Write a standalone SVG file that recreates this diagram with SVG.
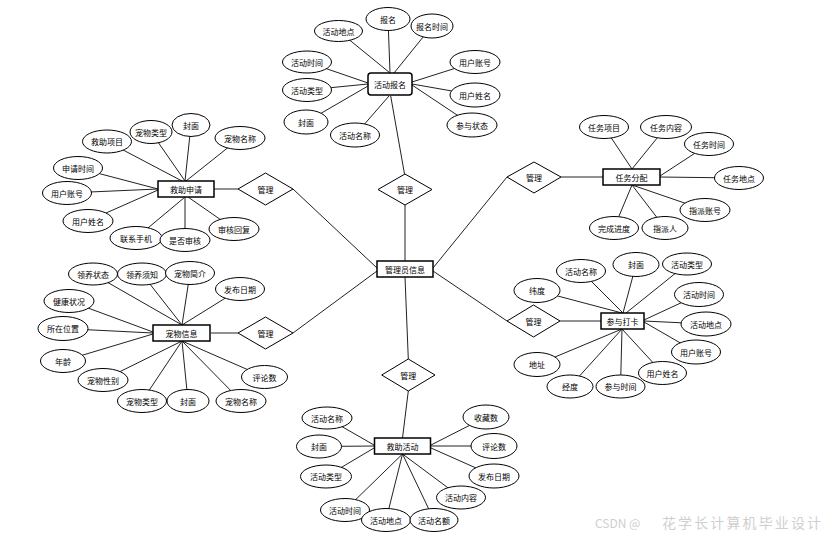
<svg xmlns="http://www.w3.org/2000/svg" width="834" height="540" viewBox="0 0 834 540">
<style>
text{font-family:"Noto Sans CJK SC","Noto Sans",sans-serif;font-size:8px;fill:#000;text-anchor:middle;dominant-baseline:central}
.a{fill:#fff;stroke:#000;stroke-width:1}
.e{fill:#fff;stroke:#000;stroke-width:1.5}
.r{fill:#fff;stroke:#000;stroke-width:1}
#conn line{stroke:#222;stroke-width:1}
.wm{font-size:14px;fill:#cfcfcf;text-anchor:start}
</style>
<rect width="834" height="540" fill="#fff"/>
<g id="conn">
<!-- 活动报名 -->
<line x1="338.5" y1="31" x2="390" y2="73"/>
<line x1="388" y1="19" x2="390" y2="73"/>
<line x1="432" y1="26" x2="394" y2="73"/>
<line x1="307" y1="62" x2="368" y2="83"/>
<line x1="307" y1="90" x2="368" y2="84"/>
<line x1="306" y1="122" x2="368" y2="86"/>
<line x1="355" y1="135" x2="389" y2="96"/>
<line x1="475" y1="62" x2="412" y2="82"/>
<line x1="475" y1="95" x2="412" y2="84"/>
<line x1="472" y1="125" x2="412" y2="85"/>
<line x1="390.7" y1="96" x2="404.5" y2="174"/>
<!-- main -->
<line x1="405" y1="205" x2="405" y2="261"/>
<line x1="293" y1="189" x2="377" y2="268"/>
<line x1="293" y1="333" x2="377" y2="271"/>
<line x1="433" y1="268" x2="507" y2="177"/>
<line x1="433" y1="271" x2="507" y2="321"/>
<line x1="405" y1="277" x2="408.3" y2="359"/>
<line x1="408.3" y1="391" x2="402.5" y2="438"/>
<line x1="214" y1="189" x2="238" y2="189"/>
<line x1="211" y1="333" x2="238" y2="333"/>
<line x1="561" y1="177" x2="603" y2="177"/>
<line x1="560" y1="321" x2="601" y2="321"/>
<!-- 救助申请 -->
<line x1="107" y1="141.5" x2="182" y2="181"/>
<line x1="151" y1="132" x2="185" y2="181"/>
<line x1="191" y1="125" x2="185" y2="181"/>
<line x1="240" y1="138" x2="186" y2="181"/>
<line x1="78" y1="168" x2="158" y2="189"/>
<line x1="67" y1="193" x2="158" y2="189"/>
<line x1="88" y1="221" x2="158" y2="190"/>
<line x1="136" y1="238" x2="185" y2="197"/>
<line x1="185" y1="240" x2="185" y2="197"/>
<line x1="234" y1="229" x2="188" y2="197"/>
<!-- 宠物信息 -->
<line x1="93" y1="274" x2="182" y2="325"/>
<line x1="142" y1="274" x2="182" y2="325"/>
<line x1="190" y1="273" x2="182" y2="325"/>
<line x1="240" y1="289" x2="182" y2="325"/>
<line x1="69" y1="301" x2="153" y2="332"/>
<line x1="63" y1="328.5" x2="153" y2="333"/>
<line x1="63" y1="361" x2="153" y2="334"/>
<line x1="103" y1="380" x2="182" y2="341"/>
<line x1="142" y1="401" x2="182" y2="341"/>
<line x1="188" y1="401" x2="182" y2="341"/>
<line x1="241" y1="401" x2="182" y2="341"/>
<line x1="264.5" y1="377" x2="182" y2="341"/>
<!-- 任务分配 -->
<line x1="604" y1="127" x2="632" y2="169"/>
<line x1="666" y1="127" x2="632" y2="169"/>
<line x1="709" y1="144" x2="660" y2="176"/>
<line x1="739" y1="178" x2="660" y2="177"/>
<line x1="705" y1="210" x2="632" y2="185"/>
<line x1="665" y1="228" x2="632" y2="185"/>
<line x1="614" y1="228" x2="632" y2="185"/>
<!-- 参与打卡 -->
<line x1="537" y1="290.5" x2="622" y2="313"/>
<line x1="581" y1="271" x2="623" y2="313"/>
<line x1="636" y1="264.5" x2="623" y2="313"/>
<line x1="687" y1="264" x2="626" y2="313"/>
<line x1="699" y1="294.5" x2="644" y2="320"/>
<line x1="706" y1="324" x2="644" y2="321"/>
<line x1="696" y1="352" x2="644" y2="322"/>
<line x1="662.5" y1="373" x2="622" y2="329"/>
<line x1="620.5" y1="386.5" x2="622" y2="329"/>
<line x1="570" y1="386.5" x2="622" y2="329"/>
<line x1="537" y1="364.5" x2="622" y2="329"/>
<!-- 救助活动 -->
<line x1="327" y1="418" x2="374" y2="445"/>
<line x1="319" y1="446.5" x2="374" y2="446"/>
<line x1="326" y1="476.5" x2="374" y2="448"/>
<line x1="345" y1="510" x2="402.5" y2="454"/>
<line x1="386" y1="520" x2="402.5" y2="454"/>
<line x1="434" y1="520" x2="402.5" y2="454"/>
<line x1="461" y1="497.5" x2="402.5" y2="454"/>
<line x1="486" y1="417" x2="431" y2="445"/>
<line x1="494" y1="446" x2="431" y2="446"/>
<line x1="494" y1="476" x2="431" y2="448"/>
</g>

<g id="diamond-top"><polygon class="r" points="405,174 432,189.5 405,205 378,189.5"/><text x="405" y="189.5">管理</text></g>
<g id="diamond-left1"><polygon class="r" points="265.5,173 293,189 265.5,205 238,189"/><text x="265.5" y="189">管理</text></g>
<g id="diamond-left2"><polygon class="r" points="265.5,317 293,333 265.5,349 238,333"/><text x="265.5" y="333">管理</text></g>
<g id="diamond-right1"><polygon class="r" points="534,162 561,177 534,193 507,177"/><text x="534" y="177">管理</text></g>
<g id="diamond-right2"><polygon class="r" points="533.5,305 560,321 533.5,337 507,321"/><text x="533.5" y="321">管理</text></g>
<g id="diamond-bottom"><polygon class="r" points="408.3,359 435,375 408.3,391 381.7,375"/><text x="408.3" y="375">管理</text></g>

<g id="admin"><rect class="e" x="377" y="261" width="56" height="16"/><text x="405" y="269">管理员信息</text></g>

<g id="signup"><rect class="e" x="368" y="73" width="44" height="22" rx="3"/><text x="390" y="84">活动报名</text></g>
<g id="signup-attrs">
<ellipse class="a" cx="338.5" cy="31" rx="24" ry="10.5"/><text x="338.5" y="31">活动地点</text>
<ellipse class="a" cx="388" cy="19" rx="22" ry="11.5"/><text x="388" y="19">报名</text>
<ellipse class="a" cx="432" cy="26" rx="21" ry="12"/><text x="432" y="26">报名时间</text>
<ellipse class="a" cx="307" cy="62" rx="24.5" ry="11"/><text x="307" y="62">活动时间</text>
<ellipse class="a" cx="307" cy="90" rx="24.5" ry="11.5"/><text x="307" y="90">活动类型</text>
<ellipse class="a" cx="306" cy="122" rx="22" ry="12"/><text x="306" y="122">封面</text>
<ellipse class="a" cx="355" cy="135" rx="24.5" ry="12"/><text x="355" y="135">活动名称</text>
<ellipse class="a" cx="475" cy="62" rx="25" ry="11.5"/><text x="475" y="62">用户账号</text>
<ellipse class="a" cx="475" cy="95" rx="25" ry="12"/><text x="475" y="95">用户姓名</text>
<ellipse class="a" cx="472" cy="125" rx="25" ry="12"/><text x="472" y="125">参与状态</text>
</g>

<g id="apply"><rect class="e" x="158" y="181" width="56" height="16"/><text x="186" y="189">救助申请</text></g>
<g id="apply-attrs">
<ellipse class="a" cx="107" cy="141.5" rx="24.5" ry="11.5"/><text x="107" y="141.5">救助项目</text>
<ellipse class="a" cx="151" cy="132" rx="21" ry="11.5"/><text x="151" y="132">宠物类型</text>
<ellipse class="a" cx="191" cy="125" rx="19" ry="11.5"/><text x="191" y="125">封面</text>
<ellipse class="a" cx="240" cy="138" rx="25" ry="11.5"/><text x="240" y="138">宠物名称</text>
<ellipse class="a" cx="78" cy="168" rx="24.5" ry="11.5"/><text x="78" y="168">申请时间</text>
<ellipse class="a" cx="67" cy="193" rx="24.5" ry="11.5"/><text x="67" y="193">用户账号</text>
<ellipse class="a" cx="88" cy="221" rx="25" ry="11.5"/><text x="88" y="221">用户姓名</text>
<ellipse class="a" cx="136" cy="238" rx="26" ry="11.5"/><text x="136" y="238">联系手机</text>
<ellipse class="a" cx="185" cy="240" rx="25" ry="11.5"/><text x="185" y="240">是否审核</text>
<ellipse class="a" cx="234" cy="229" rx="25" ry="11.5"/><text x="234" y="229">审核回复</text>
</g>

<g id="pet"><rect class="e" x="153" y="325" width="57" height="16"/><text x="181.5" y="333">宠物信息</text></g>
<g id="pet-attrs">
<ellipse class="a" cx="93" cy="274" rx="24.5" ry="11"/><text x="93" y="274">领养状态</text>
<ellipse class="a" cx="142" cy="274" rx="24.5" ry="11"/><text x="142" y="274">领养须知</text>
<ellipse class="a" cx="190" cy="273" rx="24.5" ry="11.5"/><text x="190" y="273">宠物简介</text>
<ellipse class="a" cx="240" cy="289" rx="24.5" ry="11.5"/><text x="240" y="289">发布日期</text>
<ellipse class="a" cx="69" cy="301" rx="25" ry="11.5"/><text x="69" y="301">健康状况</text>
<ellipse class="a" cx="63" cy="328.5" rx="25" ry="12"/><text x="63" y="328.5">所在位置</text>
<ellipse class="a" cx="63" cy="361" rx="22.5" ry="11.5"/><text x="63" y="361">年龄</text>
<ellipse class="a" cx="103" cy="380" rx="25" ry="11.5"/><text x="103" y="380">宠物性别</text>
<ellipse class="a" cx="142" cy="401" rx="24.5" ry="11.5"/><text x="142" y="401">宠物类型</text>
<ellipse class="a" cx="188" cy="401" rx="21" ry="11.5"/><text x="188" y="401">封面</text>
<ellipse class="a" cx="241" cy="401" rx="25" ry="11.5"/><text x="241" y="401">宠物名称</text>
<ellipse class="a" cx="264.5" cy="377" rx="23" ry="11.5"/><text x="264.5" y="377">评论数</text>
</g>

<g id="task"><rect class="e" x="603" y="169" width="57" height="16"/><text x="631.5" y="177">任务分配</text></g>
<g id="task-attrs">
<ellipse class="a" cx="604" cy="127" rx="24.5" ry="11.5"/><text x="604" y="127">任务项目</text>
<ellipse class="a" cx="666" cy="127" rx="25.5" ry="11.5"/><text x="666" y="127">任务内容</text>
<ellipse class="a" cx="709" cy="144" rx="24.5" ry="11.5"/><text x="709" y="144">任务时间</text>
<ellipse class="a" cx="739" cy="178" rx="24.5" ry="11.5"/><text x="739" y="178">任务地点</text>
<ellipse class="a" cx="705" cy="210" rx="25" ry="11.5"/><text x="705" y="210">指派账号</text>
<ellipse class="a" cx="665" cy="228" rx="23" ry="11.5"/><text x="665" y="228">指派人</text>
<ellipse class="a" cx="614" cy="228" rx="24.5" ry="11.5"/><text x="614" y="228">完成进度</text>
</g>

<g id="checkin"><rect class="e" x="601" y="313" width="43" height="16"/><text x="622.5" y="321">参与打卡</text></g>
<g id="checkin-attrs">
<ellipse class="a" cx="581" cy="271" rx="24.5" ry="11.5"/><text x="581" y="271">活动名称</text>
<ellipse class="a" cx="636" cy="264.5" rx="23" ry="12"/><text x="636" y="264.5">封面</text>
<ellipse class="a" cx="687" cy="264" rx="24.5" ry="11"/><text x="687" y="264">活动类型</text>
<ellipse class="a" cx="537" cy="290.5" rx="23" ry="12"/><text x="537" y="290.5">纬度</text>
<ellipse class="a" cx="699" cy="294.5" rx="24.5" ry="12"/><text x="699" y="294.5">活动时间</text>
<ellipse class="a" cx="706" cy="324" rx="25" ry="12"/><text x="706" y="324">活动地点</text>
<ellipse class="a" cx="696" cy="352" rx="24.5" ry="12"/><text x="696" y="352">用户账号</text>
<ellipse class="a" cx="662.5" cy="373" rx="24" ry="11.5"/><text x="662.5" y="373">用户姓名</text>
<ellipse class="a" cx="620.5" cy="386.5" rx="24.5" ry="11.5"/><text x="620.5" y="386.5">参与时间</text>
<ellipse class="a" cx="570" cy="386.5" rx="23" ry="11.5"/><text x="570" y="386.5">经度</text>
<ellipse class="a" cx="537" cy="364.5" rx="23" ry="12"/><text x="537" y="364.5">地址</text>
</g>

<g id="activity"><rect class="e" x="374.5" y="438" width="56" height="16"/><text x="402.5" y="446">救助活动</text></g>
<g id="activity-attrs">
<ellipse class="a" cx="327" cy="418" rx="25" ry="11"/><text x="327" y="418">活动名称</text>
<ellipse class="a" cx="319" cy="446.5" rx="22.5" ry="11.5"/><text x="319" y="446.5">封面</text>
<ellipse class="a" cx="326" cy="476.5" rx="25.5" ry="11.5"/><text x="326" y="476.5">活动类型</text>
<ellipse class="a" cx="345" cy="510" rx="24.5" ry="11.5"/><text x="345" y="510">活动时间</text>
<ellipse class="a" cx="386" cy="520" rx="24.5" ry="11.5"/><text x="386" y="520">活动地点</text>
<ellipse class="a" cx="434" cy="520" rx="24" ry="11.5"/><text x="434" y="520">活动名额</text>
<ellipse class="a" cx="461" cy="497.5" rx="24.5" ry="11.5"/><text x="461" y="497.5">活动内容</text>
<ellipse class="a" cx="494" cy="476" rx="25" ry="12"/><text x="494" y="476">发布日期</text>
<ellipse class="a" cx="494" cy="446" rx="23" ry="12.5"/><text x="494" y="446">评论数</text>
<ellipse class="a" cx="486" cy="417" rx="23" ry="12"/><text x="486" y="417">收藏数</text>
</g>

<text class="wm" x="595" y="522" style="font-size:12px">CSDN @</text>
<text class="wm" x="662" y="522" textLength="159" lengthAdjust="spacing">花学长计算机毕业设计</text>
</svg>
